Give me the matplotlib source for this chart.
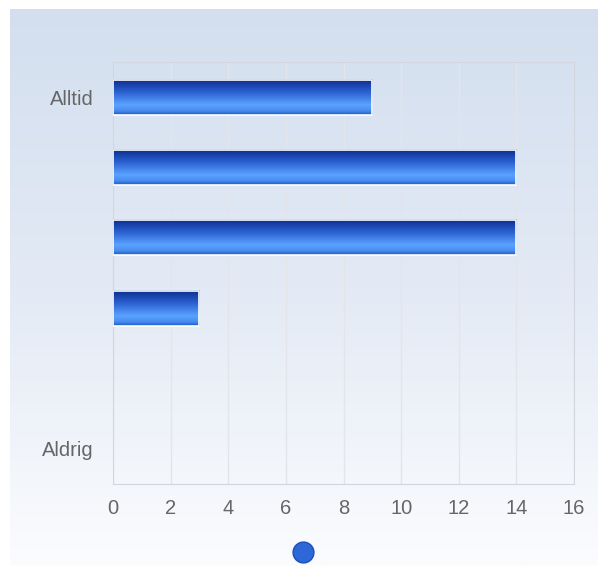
import numpy as np
import matplotlib.pyplot as plt
from matplotlib.colors import LinearSegmentedColormap
from matplotlib.lines import Line2D
from matplotlib.patches import Rectangle

# data
kategorier = ["Alltid", "", "", "", "", "Aldrig"]
varden = [9, 14, 14, 3, 0, 0]
x_ticks = [0, 2, 4, 6, 8, 10, 12, 14, 16]

plt.rcParams["font.family"] = ["Liberation Sans", "DejaVu Sans"]

fig = plt.figure(figsize=(5.98, 5.66), dpi=100)
fig.patch.set_facecolor("white")

# bakgrund med gradient
bg = fig.add_axes([10 / 598, 0, 1 - 10 / 598, 1 - 9 / 566])
bg_cmap = LinearSegmentedColormap.from_list("bg", ["#d3dfef", "#e3eaf5", "#fbfcfe"])
bg.imshow(np.linspace(0, 1, 256).reshape(-1, 1), cmap=bg_cmap, aspect="auto",
          extent=(0, 1, 0, 1), origin="upper")
bg.set_axis_off()
bg.set_zorder(0)

ax = fig.add_axes([113 / 598, 1 - 484 / 566, 461 / 598, 422 / 566])
ax.set_zorder(1)
ax.patch.set_alpha(0)

bar_cmap = LinearSegmentedColormap.from_list(
    "bar", [(0, "#0a2d8c"), (0.35, "#2a5fd0"), (0.72, "#5aa2ff"), (0.88, "#4a8ef0"), (1, "#1c5ccc")])
grad = np.linspace(0, 1, 64).reshape(-1, 1)
h = 0.5

y = np.arange(len(kategorier))
for yi, v in zip(y, varden):
    if v <= 0:
        continue
    ax.imshow(grad, cmap=bar_cmap, aspect="auto", origin="upper",
              extent=(0, v, yi + h / 2, yi - h / 2), zorder=3, interpolation="bilinear")
    ax.add_patch(Rectangle((0, yi - h / 2), v, h, fill=False, edgecolor="white",
                           linewidth=1.2, zorder=4))

ax.set_xlim(0, 16)
ax.set_ylim(len(kategorier) - 0.5, -0.5)
ax.set_aspect("auto")
ax.set_xticks(x_ticks)
ax.set_yticks(y)
ax.set_yticklabels(kategorier)
ax.tick_params(axis="both", length=0, colors="#666666", labelsize=14.5)
ax.tick_params(axis="y", pad=14)
ax.tick_params(axis="x", pad=11)
ax.grid(axis="x", color="#e3e5ea", linewidth=1, zorder=1)
ax.set_axisbelow(True)
for s in ax.spines.values():
    s.set_color("#d2d6de")

handle = Line2D([], [], linestyle="none", marker="o", markersize=15,
                markerfacecolor="#2d68d6", markeredgecolor="#1d4fb8")
fig.legend([handle], [""], loc="center", bbox_to_anchor=(303 / 598, 1 - 553 / 566),
           frameon=False, handletextpad=0, handlelength=1)

plt.savefig("out.png", dpi=100)
